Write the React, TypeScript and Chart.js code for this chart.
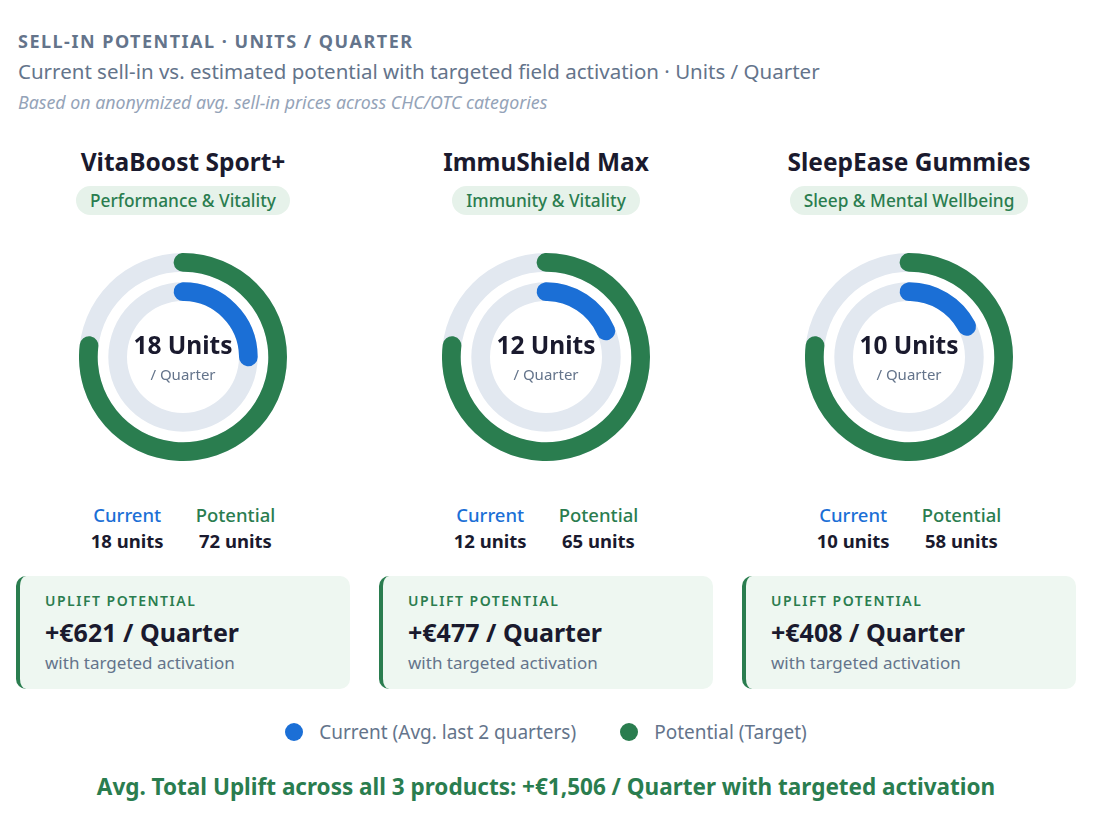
import React, { useEffect, useRef } from "react";
import { Chart, registerables } from "chart.js";

Chart.register(...registerables);

const products = ["VitaBoost Sport+", "ImmuShield Max", "SleepEase Gummies"];
const categories = ["Performance & Vitality", "Immunity & Vitality", "Sleep & Mental Wellbeing"];
const currentUnits = [18, 12, 10];
const potentialUnits = [72, 65, 58];
const upliftEuro = [621, 477, 408];
const seriesLabels = ["Current (Avg. last 2 quarters)", "Potential (Target)"];
const OUTER_SCALE = 1.3; // outer ring max relative to potential

const GREEN = "#2a7d4f";
const BLUE = "#1b6fd6";
const TRACK = "#e2e8f0";
const DARK = "#1a1a2e";
const GRAY = "#64748b";
const FONT = "'Segoe UI', 'Noto Sans', sans-serif";

const RING = 18.7;
const GAP = 10.6;
const SIZE = 208;
const INNER_R = 56;

const trackPlugin = {
  id: "track",
  beforeDatasetsDraw(chart: any) {
    const ctx = chart.ctx;
    [0, 2].forEach((i) => {
      const meta = chart.getDatasetMeta(i);
      const arc: any = meta.data[0];
      if (!arc) return;
      ctx.save();
      ctx.beginPath();
      ctx.arc(arc.x, arc.y, arc.outerRadius, 0, Math.PI * 2);
      ctx.arc(arc.x, arc.y, arc.innerRadius, 0, Math.PI * 2, true);
      ctx.closePath();
      ctx.fillStyle = TRACK;
      ctx.fill("evenodd");
      ctx.restore();
    });
  },
};

function capDeg(midR: number) {
  return ((RING / 2) / midR) * (180 / Math.PI);
}

function Ring({ idx }: { idx: number }) {
  const ref = useRef<HTMLCanvasElement>(null);
  useEffect(() => {
    if (!ref.current) return;
    const cur = currentUnits[idx];
    const pot = potentialUnits[idx];
    const outerMax = pot * OUTER_SCALE;
    const fOuter = pot / outerMax;
    const fInner = cur / pot;
    const outerMid = SIZE / 2 - RING / 2;
    const innerMid = INNER_R + RING / 2;
    const cO = capDeg(outerMid);
    const cI = capDeg(innerMid);
    const rad = (c: any) => (c.dataIndex === 0 ? RING / 2 + 1 : 0);
    const chart = new Chart(ref.current, {
      type: "doughnut",
      data: {
        labels: seriesLabels,
        datasets: [
          {
            data: [pot, outerMax - pot],
            backgroundColor: [GREEN, "rgba(0,0,0,0)"],
            borderWidth: 0,
            borderRadius: rad,
            weight: RING,
            rotation: -cO,
            circumference: 360 + (2 * cO) / fOuter,
          } as any,
          {
            data: [1],
            backgroundColor: ["rgba(0,0,0,0)"],
            borderWidth: 0,
            weight: GAP,
          } as any,
          {
            data: [cur, pot - cur],
            backgroundColor: [BLUE, "rgba(0,0,0,0)"],
            borderWidth: 0,
            borderRadius: rad,
            weight: RING,
            rotation: -cI,
            circumference: 360 + (2 * cI) / fInner,
          } as any,
        ],
      },
      options: {
        animation: false,
        responsive: false,
        maintainAspectRatio: false,
        devicePixelRatio: 1,
        cutout: (INNER_R / (SIZE / 2)) * 100 + "%",
        plugins: { legend: { display: false }, tooltip: { enabled: false } },
        events: [],
        layout: { padding: 0 },
      } as any,
      plugins: [trackPlugin],
    });
    return () => chart.destroy();
  }, [idx]);
  return (
    <div style={{ position: "relative", width: SIZE, height: SIZE, margin: "0 auto" }}>
      <canvas ref={ref} width={SIZE} height={SIZE} style={{ width: SIZE, height: SIZE, display: "block" }} />
      <div
        style={{
          position: "absolute",
          left: 0,
          top: 78,
          width: SIZE,
          textAlign: "center",
          fontSize: 24.5,
          fontWeight: 700,
          color: DARK,
          lineHeight: "28px",
        }}
      >
        {currentUnits[idx]} Units
      </div>
      <div
        style={{
          position: "absolute",
          left: 0,
          top: 112,
          width: SIZE,
          textAlign: "center",
          fontSize: 15,
          color: GRAY,
          lineHeight: "18px",
        }}
      >
        / Quarter
      </div>
    </div>
  );
}

function Column({ idx }: { idx: number }) {
  return (
    <div style={{ width: 334, display: "flex", flexDirection: "column", alignItems: "center" }}>
      <div style={{ fontSize: 24.5, fontWeight: 700, color: DARK, lineHeight: "30px" }}>{products[idx]}</div>
      <div
        style={{
          marginTop: 9,
          background: "#e6f2ea",
          color: GREEN,
          fontSize: 17.3,
          lineHeight: "29px",
          padding: "0 14px",
          borderRadius: 15,
          fontWeight: 500,
        }}
      >
        {categories[idx]}
      </div>
      <div style={{ marginTop: 38 }}>
        <Ring idx={idx} />
      </div>
      <div style={{ display: "flex", gap: 32, marginTop: 40, textAlign: "center" }}>
        <div>
          <div style={{ color: BLUE, fontSize: 18.5, fontWeight: 500, lineHeight: "27px" }}>Current</div>
          <div style={{ color: DARK, fontSize: 18.5, fontWeight: 700, lineHeight: "26px" }}>{currentUnits[idx]} units</div>
        </div>
        <div>
          <div style={{ color: GREEN, fontSize: 18.5, fontWeight: 500, lineHeight: "27px" }}>Potential</div>
          <div style={{ color: DARK, fontSize: 18.5, fontWeight: 700, lineHeight: "26px" }}>{potentialUnits[idx]} units</div>
        </div>
      </div>
      <div
        style={{
          marginTop: 22,
          alignSelf: "stretch",
          background: "#eef7f1",
          borderLeft: `4px solid ${GREEN}`,
          borderRadius: 10,
          padding: "15px 25px 14px 25px",
          height: 113,
          boxSizing: "border-box",
        }}
      >
        <div style={{ color: GREEN, fontSize: 14, fontWeight: 600, letterSpacing: 1.5, lineHeight: "20px" }}>
          UPLIFT POTENTIAL
        </div>
        <div style={{ color: DARK, fontSize: 25, fontWeight: 700, lineHeight: "34px", marginTop: 4 }}>
          +€{upliftEuro[idx]} / Quarter
        </div>
        <div style={{ color: GRAY, fontSize: 17, lineHeight: "26px", marginTop: 1 }}>with targeted activation</div>
      </div>
    </div>
  );
}

export default function App() {
  const total = upliftEuro.reduce((a, b) => a + b, 0);
  return (
    <div style={{ fontFamily: FONT, width: 1060, padding: "0 0 0 8px", marginTop: 20 }}>
      <div style={{ paddingLeft: 2 }}>
        <div style={{ fontSize: 18, fontWeight: 700, color: GRAY, letterSpacing: 1.5, lineHeight: "26px" }}>
          SELL-IN POTENTIAL · UNITS / QUARTER
        </div>
        <div style={{ fontSize: 20.5, color: GRAY, lineHeight: "30px", marginTop: 2 }}>
          Current sell-in vs. estimated potential with targeted field activation · Units / Quarter
        </div>
        <div style={{ fontSize: 17.8, fontStyle: "italic", color: "#94a3b8", lineHeight: "26px", marginTop: 3 }}>
          Based on anonymized avg. sell-in prices across CHC/OTC categories
        </div>
      </div>
      <div style={{ display: "flex", gap: 29, marginTop: 32 }}>
        {products.map((_, i) => (
          <Column key={i} idx={i} />
        ))}
      </div>
      <div style={{ display: "flex", justifyContent: "center", gap: 44, marginTop: 30, alignItems: "center" }}>
        {[BLUE, GREEN].map((c, i) => (
          <div key={i} style={{ display: "flex", alignItems: "center", gap: 16 }}>
            <span style={{ width: 18, height: 18, borderRadius: 9, background: c, display: "inline-block" }} />
            <span style={{ color: GRAY, fontSize: 19, lineHeight: "26px" }}>{seriesLabels[i]}</span>
          </div>
        ))}
      </div>
      <div style={{ textAlign: "center", color: GREEN, fontSize: 22.5, fontWeight: 700, marginTop: 27, lineHeight: "30px" }}>
        Avg. Total Uplift across all 3 products: +€{total.toLocaleString("en-US")} / Quarter with targeted activation
      </div>
    </div>
  );
}
